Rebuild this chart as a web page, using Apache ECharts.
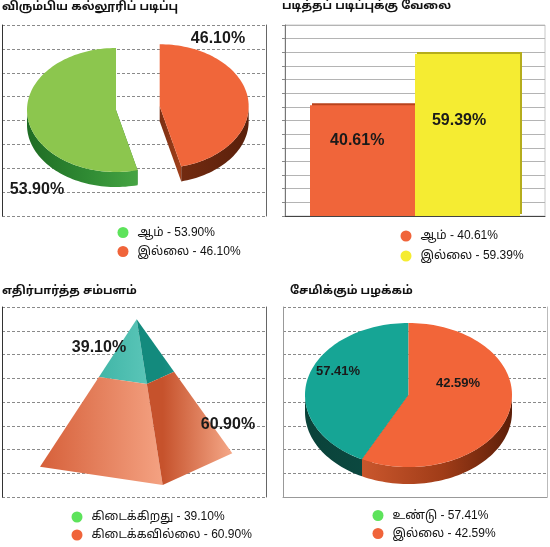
<!DOCTYPE html>
<html><head><meta charset="utf-8">
<script src="https://cdn.jsdelivr.net/npm/echarts@6/dist/echarts.min.js"></script>
<style>html,body{margin:0;padding:0;background:#fff}#c{width:550px;height:547px}</style>
</head><body><div id="c"></div>
<script>
// ---------- data ----------
const titles = ['விரும்பிய கல்லூரிப் படிப்பு', 'படித்தப் படிப்புக்கு வேலை', 'எதிர்பார்த்த சம்பளம்', 'சேமிக்கும் பழக்கம்'];
const collegeNames = ['ஆம்', 'இல்லை'];
const collegePct = [53.90, 46.10];
const jobNames = ['ஆம்', 'இல்லை'];
const jobPct = [40.61, 59.39];
const salaryNames = ['கிடைக்கிறது', 'கிடைக்கவில்லை'];
const salaryPct = [39.10, 60.90];
const savingNames = ['உண்டு', 'இல்லை'];
const savingPct = [57.41, 42.59];          // printed percentages
const savingSliceShare = [42.59, 57.41];   // slice sizes as drawn in the picture

// ---------- styling / layout ----------
const TAMIL = "'Liberation Sans','Noto Sans Tamil','Lohit Tamil','Latha','Noto Sans',sans-serif";
const NUM = "'Liberation Sans',Arial,sans-serif";
const T = Math.PI * 2;
const fmt = v => v.toFixed(2) + '%';
const LG = (x0, x1, stops) => new echarts.graphic.LinearGradient(x0, 0, x1, 0,
  stops.map((c, k) => ({offset: k / (stops.length - 1), color: c})), true);

const pie1 = {
  cx: 116, cy: 110, rx: 89, ry: 62, depth: 15, explode: [0, 44], fontSize: 16,
  labels: [[37, 190], [218, 39]],
  colors: [
    {top: '#8cc64e', side: ['#1f6c24', '#2f8a33', '#49a845', '#6cc057'], face: '#2f7f2f'},
    {top: '#f0663a', side: ['#8e3817', '#7a2e12', '#5a200b'], face: ['#7a2e12', '#a4421c']}
  ]
};
const pie4 = {
  cx: 408.5, cy: 395, rx: 103.5, ry: 72, depth: 17, explode: [0, 0], fontSize: 13,
  labels: [[338, 371], [458, 383]],
  colors: [
    {top: '#16a595', side: ['#0a4239', '#0c4d45', '#0f5f55'], face: '#0c4d45'},
    {top: '#f26539', side: ['#d8663a', '#c4532a', '#a03c18', '#5c1e08'], face: '#a03c18'}
  ]
};
const pyr = {
  apex: [136.7, 319.3], left: [40, 466.7], front: [162.7, 485], right: [232.3, 453.3], fontSize: 16,
  labels: [[99, 348], [228, 425]],
  colors: [
    {l: ['#22a393', '#62cabd'], r: ['#138a7d', '#4cbcae']},
    {l: ['#d6603a', '#f4a282'], r: ['#c6522c', '#f5a888']}
  ]
};

function arcPts(cx, cy, rx, ry, a0, a1, dy) {
  const n = Math.max(2, Math.ceil(Math.abs(a1 - a0) / (Math.PI / 90)));
  const pts = [];
  for (let k = 0; k <= n; k++) {
    const a = a0 + (a1 - a0) * k / n;
    pts.push([cx + rx * Math.cos(a), cy + ry * Math.sin(a) + dy]);
  }
  return pts;
}

function pieSliceRender(L, shares, i, labelText) {
  return function (params, api) {
    const total = shares.reduce((s, v) => s + v, 0);
    let before = 0;
    for (let k = 0; k < i; k++) before += shares[k];
    const a1 = -Math.PI / 2 - T * before / total;
    const a0 = -Math.PI / 2 - T * (before + api.value(0)) / total;
    const mid = (a0 + a1) / 2, ex = L.explode[i] || 0;
    const cx = L.cx + ex * Math.cos(mid), cy = L.cy + ex * Math.sin(mid) * L.ry / L.rx;
    const C = L.colors[i];
    const ch = [];
    [a0, a1].forEach(a => {
      const px = cx + L.rx * Math.cos(a), py = cy + L.ry * Math.sin(a);
      ch.push({type: 'polygon', z2: 1,
        shape: {points: [[cx, cy], [px, py], [px, py + L.depth], [cx, cy + L.depth]]},
        style: {fill: Array.isArray(C.face) ? LG(Math.min(cx, px), Math.max(cx, px) + 1, C.face) : C.face}});
    });
    const sh = Math.floor(a0 / T) * T, b0 = a0 - sh, b1 = a1 - sh;
    [[0, Math.PI], [T, T + Math.PI]].forEach(([f0, f1]) => {
      const s = Math.max(b0, f0), e = Math.min(b1, f1);
      if (e > s) {
        const top = arcPts(cx, cy, L.rx, L.ry, s, e, 0);
        const bot = arcPts(cx, cy, L.rx, L.ry, e, s, L.depth);
        ch.push({type: 'polygon', z2: 2, shape: {points: top.concat(bot)},
          style: {fill: LG(cx - L.rx, cx + L.rx, C.side)}});
      }
    });
    ch.push({type: 'polygon', z2: 3,
      shape: {points: [[cx, cy]].concat(arcPts(cx, cy, L.rx, L.ry, a0, a1, 0))},
      style: {fill: C.top}});
    ch.push({type: 'text', z2: 6, x: L.labels[i][0], y: L.labels[i][1],
      style: {text: labelText, fill: '#1a1a1a', fontSize: L.fontSize, fontWeight: 'bold',
        fontFamily: NUM, align: 'center', verticalAlign: 'middle'}});
    return {type: 'group', children: ch};
  };
}

function pyramidRender(P, shares, i, labelText) {
  return function (params, api) {
    const total = shares.reduce((s, v) => s + v, 0);
    let before = 0;
    for (let k = 0; k < i; k++) before += shares[k];
    const f0 = before / total, f1 = (before + api.value(0)) / total;
    const A = P.apex;
    const pt = (X, f) => [A[0] + (X[0] - A[0]) * f, A[1] + (X[1] - A[1]) * f];
    const C = P.colors[i];
    return {type: 'group', children: [
      {type: 'polygon', z2: 2, shape: {points: [pt(P.left, f0), pt(P.left, f1), pt(P.front, f1), pt(P.front, f0)]},
        style: {fill: LG(P.left[0], P.front[0], C.l)}},
      {type: 'polygon', z2: 2, shape: {points: [pt(P.front, f0), pt(P.front, f1), pt(P.right, f1), pt(P.right, f0)]},
        style: {fill: LG(P.front[0], P.right[0], C.r)}},
      {type: 'text', z2: 6, x: P.labels[i][0], y: P.labels[i][1],
        style: {text: labelText, fill: '#1a1a1a', fontSize: P.fontSize, fontWeight: 'bold',
          fontFamily: NUM, align: 'center', verticalAlign: 'middle'}}
    ]};
  };
}

const legendColors = {
  college: ['#5de35b', '#f0643a'],
  job: ['#f0643a', '#f5ec30'],
  salary: ['#5de35b', '#f0643a'],
  saving: ['#5de35b', '#f0643a']
};

function legendOf(names, pct, colors, left, top, gap) {
  return {
    orient: 'vertical', left: left, top: top, height: 60, padding: 0,
    itemWidth: 11, itemHeight: 11, itemGap: gap,
    icon: 'circle', selectedMode: false,
    data: names.map((n, k) => ({name: n, itemStyle: {color: colors[k]}})),
    formatter: name => name + ' - ' + fmt(pct[names.indexOf(name)]),
    textStyle: {fontFamily: TAMIL, fontSize: 12, color: '#111', lineHeight: 12, padding: [0, 0, 0, 4]}
  };
}

const dashed = {show: true, lineStyle: {color: '#8a8a8a', type: [3, 2], width: 1}};
function frameY(grid, color, withSplit, pos) {
  return {gridIndex: grid, type: 'value', min: 0, max: 8, interval: 1, position: pos,
    axisLine: {show: true, lineStyle: {color: color}}, axisTick: {show: false}, axisLabel: {show: false},
    splitLine: withSplit ? dashed : {show: false}};
}

const titleStyle = {fontFamily: TAMIL, fontSize: 11.5, fontWeight: 'bold', color: '#111'};

const series = [];
collegeNames.forEach((n, i) => series.push({
  type: 'custom', name: n, coordinateSystem: 'none', silent: true,
  itemStyle: {color: legendColors.college[i]}, data: [[collegePct[i]]],
  renderItem: pieSliceRender(pie1, collegePct, i, fmt(collegePct[i]))
}));
jobNames.forEach((n, i) => series.push({
  type: 'bar', name: n, xAxisIndex: 1, yAxisIndex: 2, data: [jobPct[i]], barWidth: 105, barGap: '0%',
  silent: true,
  itemStyle: {color: i === 0 ? '#f0653a' : '#f5ec32', shadowColor: i === 0 ? '#b8431c' : '#b5ad1c',
    shadowOffsetX: 2, shadowOffsetY: -2, shadowBlur: 0},
  label: {show: true, position: i === 0 ? ['45%', '32%'] : ['42%', '41%'], align: 'center', verticalAlign: 'middle',
    formatter: p => fmt(p.value), fontSize: 16, fontWeight: 'bold', fontFamily: NUM, color: '#1a1a1a'}
}));
salaryNames.forEach((n, i) => series.push({
  type: 'custom', name: n, coordinateSystem: 'none', silent: true,
  itemStyle: {color: legendColors.salary[i]}, data: [[salaryPct[i]]],
  renderItem: pyramidRender(pyr, salaryPct, i, fmt(salaryPct[i]))
}));
savingNames.forEach((n, i) => series.push({
  type: 'custom', name: n, coordinateSystem: 'none', silent: true,
  itemStyle: {color: legendColors.saving[i]}, data: [[savingSliceShare[i]]],
  renderItem: pieSliceRender(pie4, savingSliceShare, i, fmt(savingPct[i]))
}));

const option = {
  animation: false,
  backgroundColor: '#fff',
  title: [
    {text: titles[0], left: 2, top: 1, padding: 0, textStyle: titleStyle},
    {text: titles[1], left: 282, top: 0, padding: 0, textStyle: titleStyle},
    {text: titles[2], left: 2, top: 285, padding: 0, textStyle: titleStyle},
    {text: titles[3], left: 290, top: 285, padding: 0, textStyle: titleStyle}
  ],
  legend: [
    legendOf(collegeNames, collegePct, legendColors.college, 117.5, 226.5, 7),
    legendOf(jobNames, jobPct, legendColors.job, 400.5, 230, 8),
    legendOf(salaryNames, salaryPct, legendColors.salary, 71.5, 511, 6),
    legendOf(savingNames, savingPct, legendColors.saving, 372.5, 509.5, 6)
  ],
  grid: [
    {left: 2, right: 284, top: 25, bottom: 331},
    {left: 285, right: 5, top: 25, bottom: 331, show: true, borderColor: '#c8c8c8', borderWidth: 1},
    {left: 2, right: 284, top: 307, bottom: 50},
    {left: 283, right: 3, top: 307, bottom: 50}
  ],
  xAxis: [
    {gridIndex: 0, type: 'value', show: false, min: 0, max: 1},
    {gridIndex: 1, type: 'category', data: [' '], axisLine: {lineStyle: {color: '#444'}},
      axisTick: {alignWithLabel: true, length: 3, lineStyle: {color: '#888'}}, axisLabel: {show: false}},
    {gridIndex: 2, type: 'value', show: false, min: 0, max: 1},
    {gridIndex: 3, type: 'value', min: 0, max: 1, axisLine: {show: true, onZero: false, lineStyle: {color: '#999'}},
      axisTick: {show: false}, axisLabel: {show: false}, splitLine: {show: false}}
  ],
  yAxis: [
    frameY(0, '#333', true, 'left'),
    frameY(0, '#666', false, 'right'),
    {gridIndex: 1, type: 'value', min: 0, max: 70, interval: 5,
      axisLine: {show: true, lineStyle: {color: '#777'}}, axisTick: {show: true, length: 3, lineStyle: {color: '#888'}},
      axisLabel: {show: false}, splitLine: {show: true, lineStyle: {color: '#b4b4b4', width: 1}}},
    frameY(2, '#333', true, 'left'),
    frameY(2, '#666', false, 'right'),
    frameY(3, '#999', true, 'left'),
    frameY(3, '#bbb', false, 'right')
  ],
  series: series
};

const chart = echarts.init(document.getElementById('c'), null, {renderer: 'canvas'});
chart.setOption(option);
</script></body></html>
